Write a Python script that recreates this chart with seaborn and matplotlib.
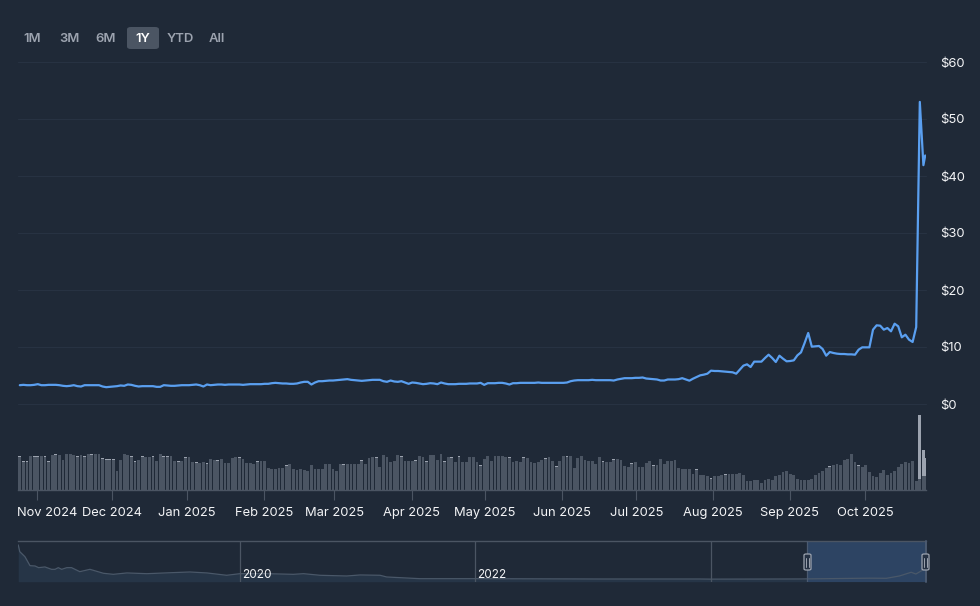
import numpy as np
import matplotlib
matplotlib.use("Agg")
import matplotlib.pyplot as plt
from matplotlib.patches import FancyBboxPatch
from matplotlib.transforms import ScaledTranslation
import seaborn as sns

price = [
3.30,3.36,3.30,3.30,3.36,3.48,3.30,3.30,3.36,3.36,3.36,3.30,3.19,3.13,3.19,3.30,3.13,3.07,3.30,3.30,
3.30,3.30,3.30,3.07,2.95,3.01,3.07,3.13,3.25,3.19,3.42,3.36,3.19,3.07,3.13,3.13,3.13,3.13,3.01,3.01,
3.30,3.25,3.19,3.19,3.25,3.30,3.30,3.30,3.36,3.42,3.30,3.07,3.42,3.30,3.36,3.42,3.42,3.36,3.42,3.42,
3.42,3.42,3.36,3.42,3.48,3.48,3.48,3.48,3.54,3.54,3.65,3.71,3.65,3.60,3.60,3.54,3.54,3.60,3.77,3.89,
3.89,3.42,3.77,4.00,4.00,4.06,4.12,4.12,4.18,4.24,4.30,4.36,4.24,4.18,4.12,4.06,4.12,4.18,4.24,4.24,
4.24,4.00,3.89,4.12,3.95,3.89,4.00,3.77,3.54,3.77,3.71,3.60,3.48,3.54,3.65,3.60,3.48,3.77,3.60,3.48,
3.48,3.48,3.54,3.54,3.54,3.60,3.60,3.60,3.71,3.36,3.65,3.65,3.65,3.71,3.71,3.60,3.42,3.65,3.65,3.71,
3.71,3.71,3.71,3.71,3.77,3.71,3.71,3.71,3.71,3.71,3.71,3.71,3.77,4.00,4.12,4.18,4.18,4.18,4.18,4.24,
4.18,4.18,4.18,4.18,4.18,4.12,4.30,4.41,4.53,4.53,4.53,4.59,4.59,4.65,4.47,4.41,4.36,4.30,4.12,4.12,
4.30,4.30,4.30,4.36,4.53,4.30,
4.09,4.44,4.74,5.03,5.15,5.32,5.85,5.79,5.79,5.73,5.67,5.61,5.56,5.32,6.02,6.73,6.96,6.49,7.43,7.43,
7.43,8.07,8.65,8.07,7.37,8.48,7.95,7.49,7.54,7.66,8.54,9.06,10.70,12.46,10.06,10.12,10.18,9.65,8.48,9.12,
8.95,8.83,8.77,8.77,8.71,8.71,8.65,9.53,9.94,9.94,9.94,13.04,13.80,13.74,13.04,13.33,12.75,14.09,13.63,11.70,
12.16,11.29,10.88,13.50,53.0,41.9,43.6]

volume = [
34,29,29,34,34,34,34,34,29,35,
36,35.5,30,36,36,35,34,35,34,36,
36,36.5,36.5,32,31,31,31,19,30,36,
35,34,29,30,34,33.5,33.5,34,29,36,
34,34,34,29,29,29,33,33,28.5,28,
27,28,27,31,30,30,31,27,27,32,
33,33,31,27,27,26.5,
29,29,29,22.5,21.5,21.5,22.5,22,25,26,
21.5,20.5,21.5,20.5,19,25,21.5,21.5,21.5,26.5,
26.5,21.5,19.5,26,26,26.5,26,26.5,26,
30,26,32,33,33,23,35,33,28.5,
29.5,35,34,29.5,29,29,30,34,33,29,
35,35,30,36,29,33,33,28.5,34,
28.5,28.5,33,33,28.5,25,31,34,
29.5,34,34.5,34,33.5,33,28.5,29,28.5,33,
32,28,27,28,30.5,32,33,29,24,
29,34.5,34,34,22,32,34,30,29.5,29,
26.5,33,29,28.5,28,31,31,30,24.5,
23.5,27,28,23,23,27,29,25,25,31,
26,29,29.5,30.5,22,21.5,21,21,16.5,21,
15,15.5,14,12,14,14.5,
15.5,16,16,16,16.5,17.5,15,9,9,10.5,
10,7.5,10.5,11.5,10.5,14.5,15,18.5,19.5,16,
15,11,10.5,10,10.5,11.5,15.5,17.5,19,22,
24,25,26,25.5,30,31.5,36,28.5,25,23.5,
25,18,14,13.5,17.5,20.5,15,17.5,19.5,23,
26.5,28,27.5,29,9.5,75,40,32]

# bars with a thin lighter top, and the dark part of the three last bars
capped_bars = [0,1,2,4,5,7,8,10,11,16,18,20,21,22,23,24,25,26,31,32,34,37,40,41,44,46,49,52,55,
               61,66,70,74,76,79,83,90,95,99,103,106,110,113,118,120,122,128,131,133,136,140,
               146,149,152,158,162,165,170,176,181,184,188,192,196,199,204,209,212,217,221,225,228,233,238]
last_bar_base = [11, 14.3, 14.3]

month_labels = ["Nov 2024","Dec 2024","Jan 2025","Feb 2025","Mar 2025","Apr 2025","May 2025",
                "Jun 2025","Jul 2025","Aug 2025","Sep 2025","Oct 2025"]
month_ticks = [4.7,25.5,46.5,67.9,87.4,108.9,129.2,150.7,171.3,192.6,213.9,234.9]

price_ticks = [0,10,20,30,40,50,60]
range_buttons = ["1M","3M","6M","1Y","YTD","All"]
range_centres = [32,69,106,143,180,217]

nav_years = [2018.117,2018.13,2018.174,2018.217,2018.26,2018.29,2018.344,2018.40,2018.43,2018.457,2018.486,
             2018.53,2018.57,2018.64,2018.726,2018.84,2018.924,2019.04,2019.21,2019.43,2019.575,2019.72,
             2019.887,2020.0,2020.227,2020.453,2020.54,2020.68,2020.906,2021.02,2021.19,2021.246,2021.53,
             2021.98,2023.06,2023.9,2024.0,2024.75,2025.35,2025.49,2025.6,2025.7,2025.74,2025.8,2025.826]
nav_price = [114.7,93.8,78,50,49,43.8,46,38.6,38.6,43.8,38.6,43.8,43.8,31.3,38.6,26.3,23,27.3,25,28.3,30.3,27.3,
             20,25,25,23,25,20,17.8,21,20,14.7,9.4,9.4,8.4,8.4,8,8.5,11,10.6,17.8,29.4,24,36.6,41.9]
nav_ticks = [2020,2022,2024]
nav_labels = ["2020","2022"]

BG = "#1f2937"
BLUE = "#5a9ff0"
DARKBAR = "#4b5563"
LIGHTBAR = "#9ca3af"
GRID = "#273242"
TEXT = "#f3f4f6"

sns.set_theme(style="dark")
plt.rcParams["font.family"] = ["Inter", "DejaVu Sans"]
W, H = 980, 606
fig = plt.figure(figsize=(W/100, H/100), dpi=100, facecolor=BG)

def axes_px(l, t, r, b):
    ax = fig.add_axes([l/W, 1-b/H, (r-l)/W, (b-t)/H], facecolor="none")
    for s in ax.spines.values():
        s.set_visible(False)
    return ax

n = len(price)
x = np.arange(n, dtype=float)
x[-1] = n - 1.5
XLIM = (-0.5, 251.72)

# price panel
ax = axes_px(18, 62, 926, 404)
sns.lineplot(x=x, y=price, color=BLUE, lw=1.6, ax=ax, errorbar=None, sort=False, zorder=3)
ax.set_xlim(*XLIM)
ax.set_ylim(0, 60)
ax.yaxis.tick_right()
ax.set_yticks(price_ticks)
ax.set_yticklabels([f"${v}" for v in price_ticks], fontsize=9.4, color=TEXT)
ax.tick_params(axis="y", length=0, pad=10.5)
ax.set_xticks([])
ax.grid(False)
for v in price_ticks:
    ax.axhline(v, color=GRID, lw=0.8, zorder=1, clip_on=False)

# volume panel
vax = axes_px(18, 410, 926, 490)
vol = np.array(volume, dtype=float)
base = vol.copy()
base[capped_bars] -= 0.9
base[-3:] = last_bar_base
sns.barplot(x=x, y=vol, native_scale=True, width=1.56, color=LIGHTBAR, saturation=1,
            errorbar=None, ax=vax, zorder=2, linewidth=0, edgecolor="none")
sns.barplot(x=x, y=base, native_scale=True, width=1.56, color=DARKBAR, saturation=1,
            errorbar=None, ax=vax, zorder=3, linewidth=0, edgecolor="none")
vax.set_xlim(*XLIM)
vax.set_ylim(0, 80)
vax.set_yticks([])
vax.set_ylabel("")
vax.spines["bottom"].set_visible(True)
vax.spines["bottom"].set_color(DARKBAR)
vax.spines["bottom"].set_linewidth(1)
vax.set_xticks(month_ticks)
vax.set_xticklabels(month_labels, fontsize=9.3, color=TEXT)
vax.tick_params(axis="x", length=7, width=0.8, color=DARKBAR, pad=5.5, bottom=True)
vax.grid(False)
first = vax.get_xticklabels()[0]
first.set_transform(first.get_transform() + ScaledTranslation(10.5/100, 0, fig.dpi_scale_trans))

# navigator
nav = axes_px(18, 541, 926, 581.7)
nav.set_xlim(2018.115, 2025.826)
nav.set_ylim(0, 127)
nav.fill_between(nav_years, nav_price, color="#263547", lw=0, zorder=1)
nav.axvspan(2024.815, 2025.826, color="#2d4463", lw=0, zorder=2)
sns.lineplot(x=nav_years, y=nav_price, color="#4a5869", lw=0.9, ax=nav, errorbar=None, sort=False, zorder=3)
for yr in nav_ticks:
    nav.axvline(yr, color="#4b5563", lw=0.9, zorder=4)
for yr, lab in zip(nav_ticks, nav_labels):
    nav.annotate(lab, xy=(yr, 0), xytext=(1.4, 4.6), textcoords="offset points", xycoords=("data", "axes fraction"),
                 fontsize=8.5, color=TEXT, va="center", ha="left", zorder=5)
nav.spines["top"].set_visible(True)
nav.spines["top"].set_color("#4b5563")
nav.spines["top"].set_linewidth(1)
nav.set_xticks([]); nav.set_yticks([])
nav.grid(False)
nav.plot([2024.815, 2024.815], [0, 127], color="#4b5a70", lw=0.9, zorder=4)
nav.plot([2025.826, 2025.826], [0, 127], color="#4b5a70", lw=1.4, zorder=4, clip_on=False)

def fx(p): return p/W
def fy(p): return 1-p/H

for cx in (807.5, 925.5):
    fig.add_artist(FancyBboxPatch((fx(cx-3.5)+0.0, fy(570)), 7/W, 16/H,
                   boxstyle="round,pad=0,rounding_size=0.002", mutation_aspect=1,
                   fc="#263244", ec="#9ca3af", lw=0.9, transform=fig.transFigure, zorder=10))
    for d in (-1.2, 1.2):
        fig.add_artist(plt.Line2D([fx(cx+d)]*2, [fy(557.5), fy(566.5)], color="#9ca3af", lw=0.7,
                                  transform=fig.transFigure, zorder=11))

# range buttons
fig.add_artist(FancyBboxPatch((fx(127), fy(49)), 32/W, 22/H,
               boxstyle="round,pad=0,rounding_size=0.004", mutation_aspect=1,
               fc=DARKBAR, ec="none", transform=fig.transFigure, zorder=1))
for lab, cx in zip(range_buttons, range_centres):
    fig.text(fx(cx), fy(39), lab, ha="center", va="center", fontsize=9.4, fontweight="semibold",
             color="white" if lab == "1Y" else "#9ca3af", zorder=2)

fig.savefig("out.png", dpi=100, facecolor=BG)
